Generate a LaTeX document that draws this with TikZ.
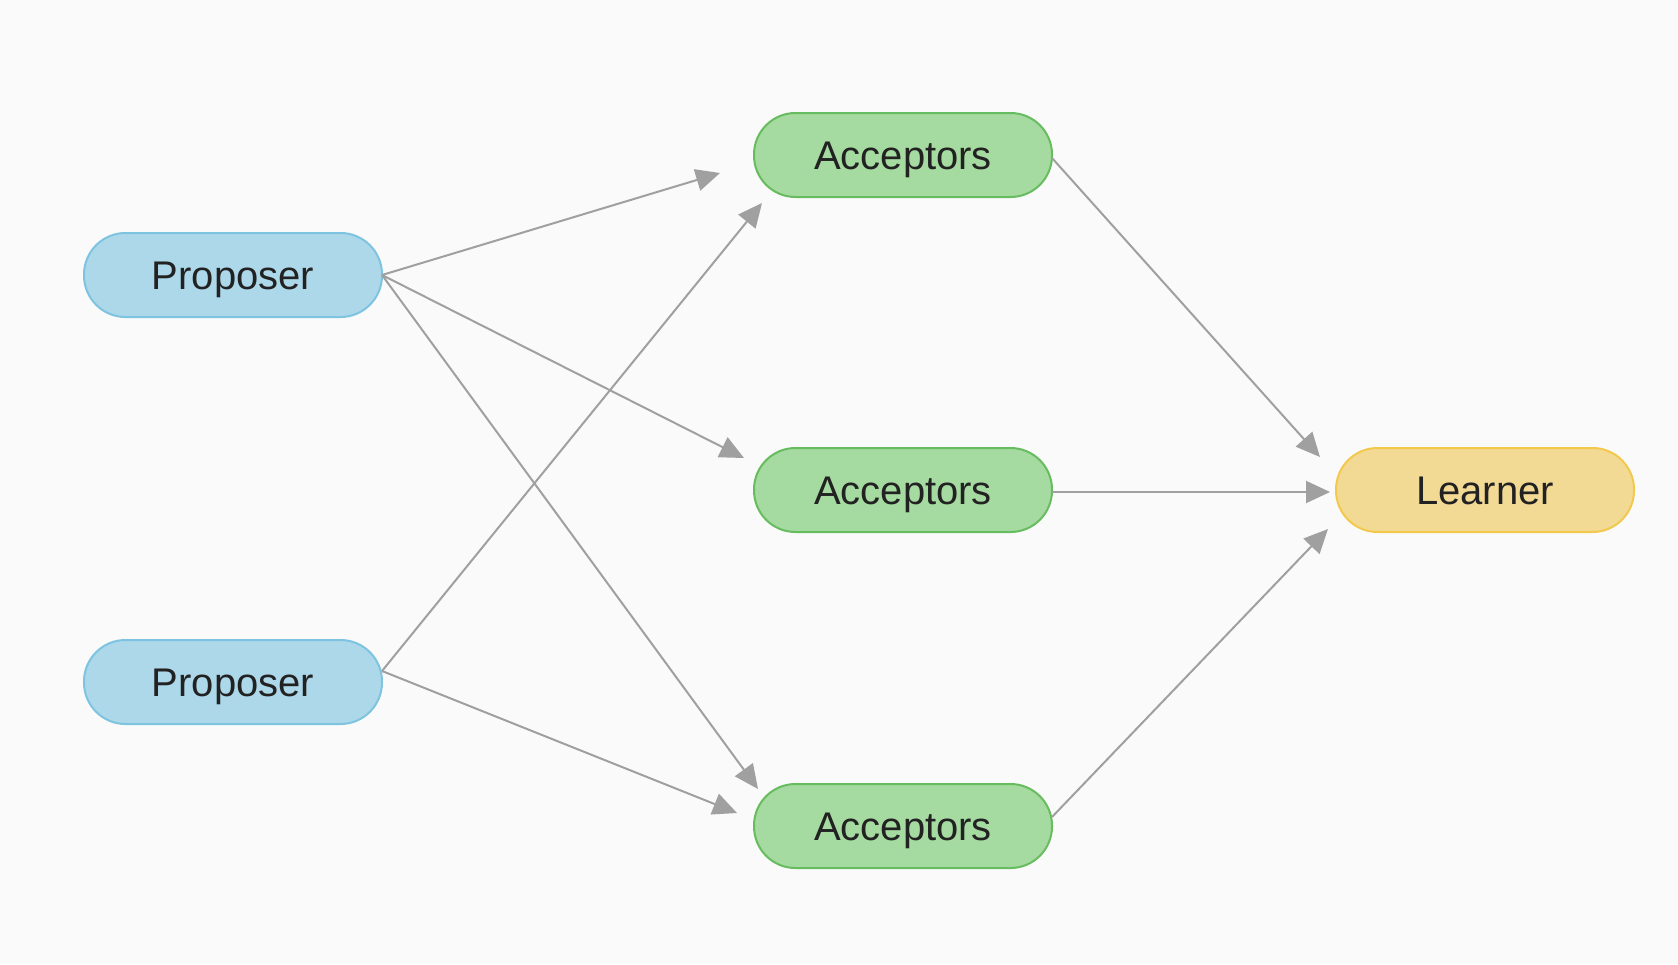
\documentclass[tikz,border=0pt]{standalone}
\usepackage{fontspec}
\setmainfont{Liberation Sans}
\usetikzlibrary{arrows.meta}
\definecolor{bg}{RGB}{250,250,250}
\definecolor{pfill}{RGB}{173,216,234}
\definecolor{pdraw}{RGB}{126,195,224}
\definecolor{afill}{RGB}{165,219,160}
\definecolor{adraw}{RGB}{104,188,96}
\definecolor{lfill}{RGB}{242,218,148}
\definecolor{ldraw}{RGB}{242,201,76}
\definecolor{edge}{RGB}{160,160,160}
\definecolor{txt}{RGB}{34,34,34}
\tikzset{
  pill/.style={rectangle, rounded corners=41.5pt, minimum width=298pt, minimum height=84pt, line width=2pt, text=txt, font=\fontsize{40}{42}\selectfont, inner sep=0pt, text height=28.6pt, text depth=0pt},
  prop/.style={pill, fill=pfill, draw=pdraw},
  acc/.style={pill, fill=afill, draw=adraw},
  lrn/.style={pill, fill=lfill, draw=ldraw},
  conn/.style={draw=edge, line width=2pt, -{Triangle[length=24pt,width=22pt]}}
}
\begin{document}
\begin{tikzpicture}[x=1pt,y=-1pt]
\fill[bg] (0,0) rectangle (1678,964);
\useasboundingbox (0,0) rectangle (1678,964);
\node[prop] (p1) at (233,275) {Proposer};
\node[prop] (p2) at (233,682) {Proposer};
\node[acc] (a1) at (903,155) {Acceptors};
\node[acc] (a2) at (903,490) {Acceptors};
\node[acc] (a3) at (903,826) {Acceptors};
\node[lrn] (l) at (1485,490) {Learner};
\coordinate (p1o) at (382,275);
\coordinate (p2o) at (382,671);
\coordinate (a1o) at (1052,158);
\coordinate (a2o) at (1052,492);
\coordinate (a3o) at (1052,817);
\coordinate (e11) at (720,173);
\coordinate (e12) at (744,458);
\coordinate (e13) at (758,789);
\coordinate (e21) at (762,203);
\coordinate (e23) at (737,813);
\coordinate (el1) at (1320,457);
\coordinate (el2) at (1330,492);
\coordinate (el3) at (1328,529);
\draw[conn] (p1o) -- (e11);
\draw[conn] (p1o) -- (e12);
\draw[conn] (p1o) -- (e13);
\draw[conn] (p2o) -- (e21);
\draw[conn] (p2o) -- (e23);
\draw[conn] (a1o) -- (el1);
\draw[conn] (a2o) -- (el2);
\draw[conn] (a3o) -- (el3);
\end{tikzpicture}
\end{document}
